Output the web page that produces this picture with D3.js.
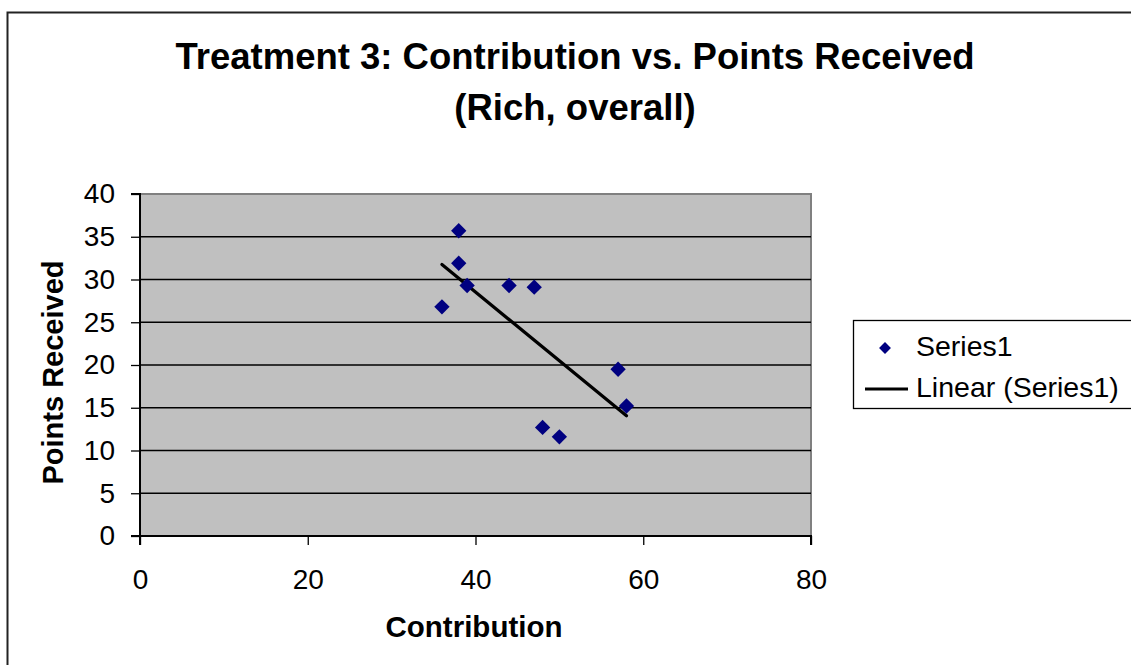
<!DOCTYPE html>
<html>
<head>
<meta charset="utf-8">
<script src="https://cdn.jsdelivr.net/npm/d3@7"></script>
<style>
  html, body { margin: 0; padding: 0; background: #ffffff; }
  svg { display: block; font-family: Arial, "Liberation Sans", sans-serif; }
</style>
</head>
<body>
<svg id="chart" width="1131" height="665"></svg>
<script>
// ---- data ----
const contribution = [38, 38, 39, 36, 44, 47, 57, 58, 48, 50];
const pointsReceived = [35.7, 31.9, 29.3, 26.8, 29.3, 29.1, 19.5, 15.2, 12.7, 11.6];
const xTicks = [0, 20, 40, 60, 80];
const yTicks = [0, 5, 10, 15, 20, 25, 30, 35, 40];
const titleLines = ["Treatment 3: Contribution vs. Points Received", "(Rich, overall)"];
const xTitle = "Contribution";
const yTitle = "Points Received";
const legendLabels = ["Series1", "Linear (Series1)"];

const svg = d3.select("#chart");
const W = 1131, H = 665;

// outer chart border
svg.append("rect").attr("x", 7.5).attr("y", 12.5).attr("width", W).attr("height", H)
  .attr("fill", "#fff").attr("stroke", "#222").attr("stroke-width", 2);

const plot = { left: 140, top: 194, right: 811, bottom: 536 };
const x = d3.scaleLinear().domain([0, 80]).range([plot.left, plot.right]);
const y = d3.scaleLinear().domain([0, 40]).range([plot.bottom, plot.top]);

// plot background
svg.append("rect").attr("x", plot.left).attr("y", plot.top)
  .attr("width", plot.right - plot.left).attr("height", plot.bottom - plot.top)
  .attr("fill", "#c0c0c0").attr("stroke", "#808080").attr("stroke-width", 2);

// gridlines
svg.append("g").selectAll("line").data(yTicks.filter(d => d > 0 && d < 40)).join("line")
  .attr("x1", plot.left).attr("x2", plot.right)
  .attr("y1", d => y(d)).attr("y2", d => y(d))
  .attr("stroke", "#000").attr("stroke-width", 1.3);

// axes
const xAxis = svg.append("g").attr("transform", `translate(0,${plot.bottom})`)
  .call(d3.axisBottom(x).tickValues(xTicks).tickSize(9).tickPadding(24).tickFormat(d3.format("d")));
const yAxis = svg.append("g").attr("transform", `translate(${plot.left},0)`)
  .call(d3.axisLeft(y).tickValues(yTicks).tickSize(9).tickPadding(16).tickFormat(d3.format("d")));
[xAxis, yAxis].forEach(a => {
  a.select(".domain").attr("stroke", "#000").attr("stroke-width", 2);
  a.selectAll(".tick line").attr("stroke", "#000").attr("stroke-width", 1.3);
  a.selectAll(".tick text").attr("fill", "#000").style("font-size", "28px")
    .style("font-family", "Arial, 'Liberation Sans', sans-serif");
});
yAxis.select(".domain").attr("d", `M-9,${plot.bottom}H0V${plot.top}H-9`);
xAxis.select(".domain").attr("d", `M${plot.left},9V0H${plot.right}V9`);

// trendline (least squares)
const n = contribution.length;
const mx = d3.mean(contribution), my = d3.mean(pointsReceived);
let sxy = 0, sxx = 0;
for (let i = 0; i < n; i++) {
  sxy += (contribution[i] - mx) * (pointsReceived[i] - my);
  sxx += (contribution[i] - mx) ** 2;
}
const slope = sxy / sxx, intercept = my - slope * mx;
const xExt = d3.extent(contribution);
svg.append("path")
  .datum(xExt.map(v => [v, intercept + slope * v]))
  .attr("d", d3.line().x(d => x(d[0])).y(d => y(d[1])))
  .attr("stroke", "#000").attr("stroke-width", 3.2).attr("fill", "none")
  .attr("stroke-linecap", "round");

// points
const diamond = d3.symbol().type(d3.symbolDiamond2).size(150);
svg.append("g").selectAll("path").data(contribution.map((c, i) => [c, pointsReceived[i]])).join("path")
  .attr("transform", d => `translate(${x(d[0])},${y(d[1])})`)
  .attr("d", diamond).attr("fill", "#000080");

// titles
svg.append("g").selectAll("text").data(titleLines).join("text")
  .attr("x", 575).attr("y", (d, i) => 69 + i * 51)
  .attr("text-anchor", "middle").style("font-size", "36.5px").style("font-weight", "bold")
  .attr("fill", "#000").text(d => d);

svg.append("text").attr("x", 474).attr("y", 637)
  .attr("text-anchor", "middle").style("font-size", "29.5px").style("font-weight", "bold")
  .text(xTitle);

svg.append("text").attr("transform", `translate(63,372.5) rotate(-90)`)
  .attr("text-anchor", "middle").style("font-size", "29px").style("font-weight", "bold")
  .text(yTitle);

// legend
const lg = svg.append("g");
lg.append("rect").attr("x", 853.5).attr("y", 320.5).attr("width", 290).attr("height", 88)
  .attr("fill", "#fff").attr("stroke", "#000").attr("stroke-width", 1.3);
lg.append("path").attr("transform", "translate(885,348)")
  .attr("d", d3.symbol().type(d3.symbolDiamond2).size(90)).attr("fill", "#000080");
lg.append("line").attr("x1", 865).attr("x2", 908).attr("y1", 389).attr("y2", 389)
  .attr("stroke", "#000").attr("stroke-width", 3.2);
lg.selectAll("text").data(legendLabels).join("text")
  .attr("x", 916).attr("y", (d, i) => 356 + i * 41)
  .style("font-size", "28.5px").attr("fill", "#000").text(d => d);
</script>
</body>
</html>
